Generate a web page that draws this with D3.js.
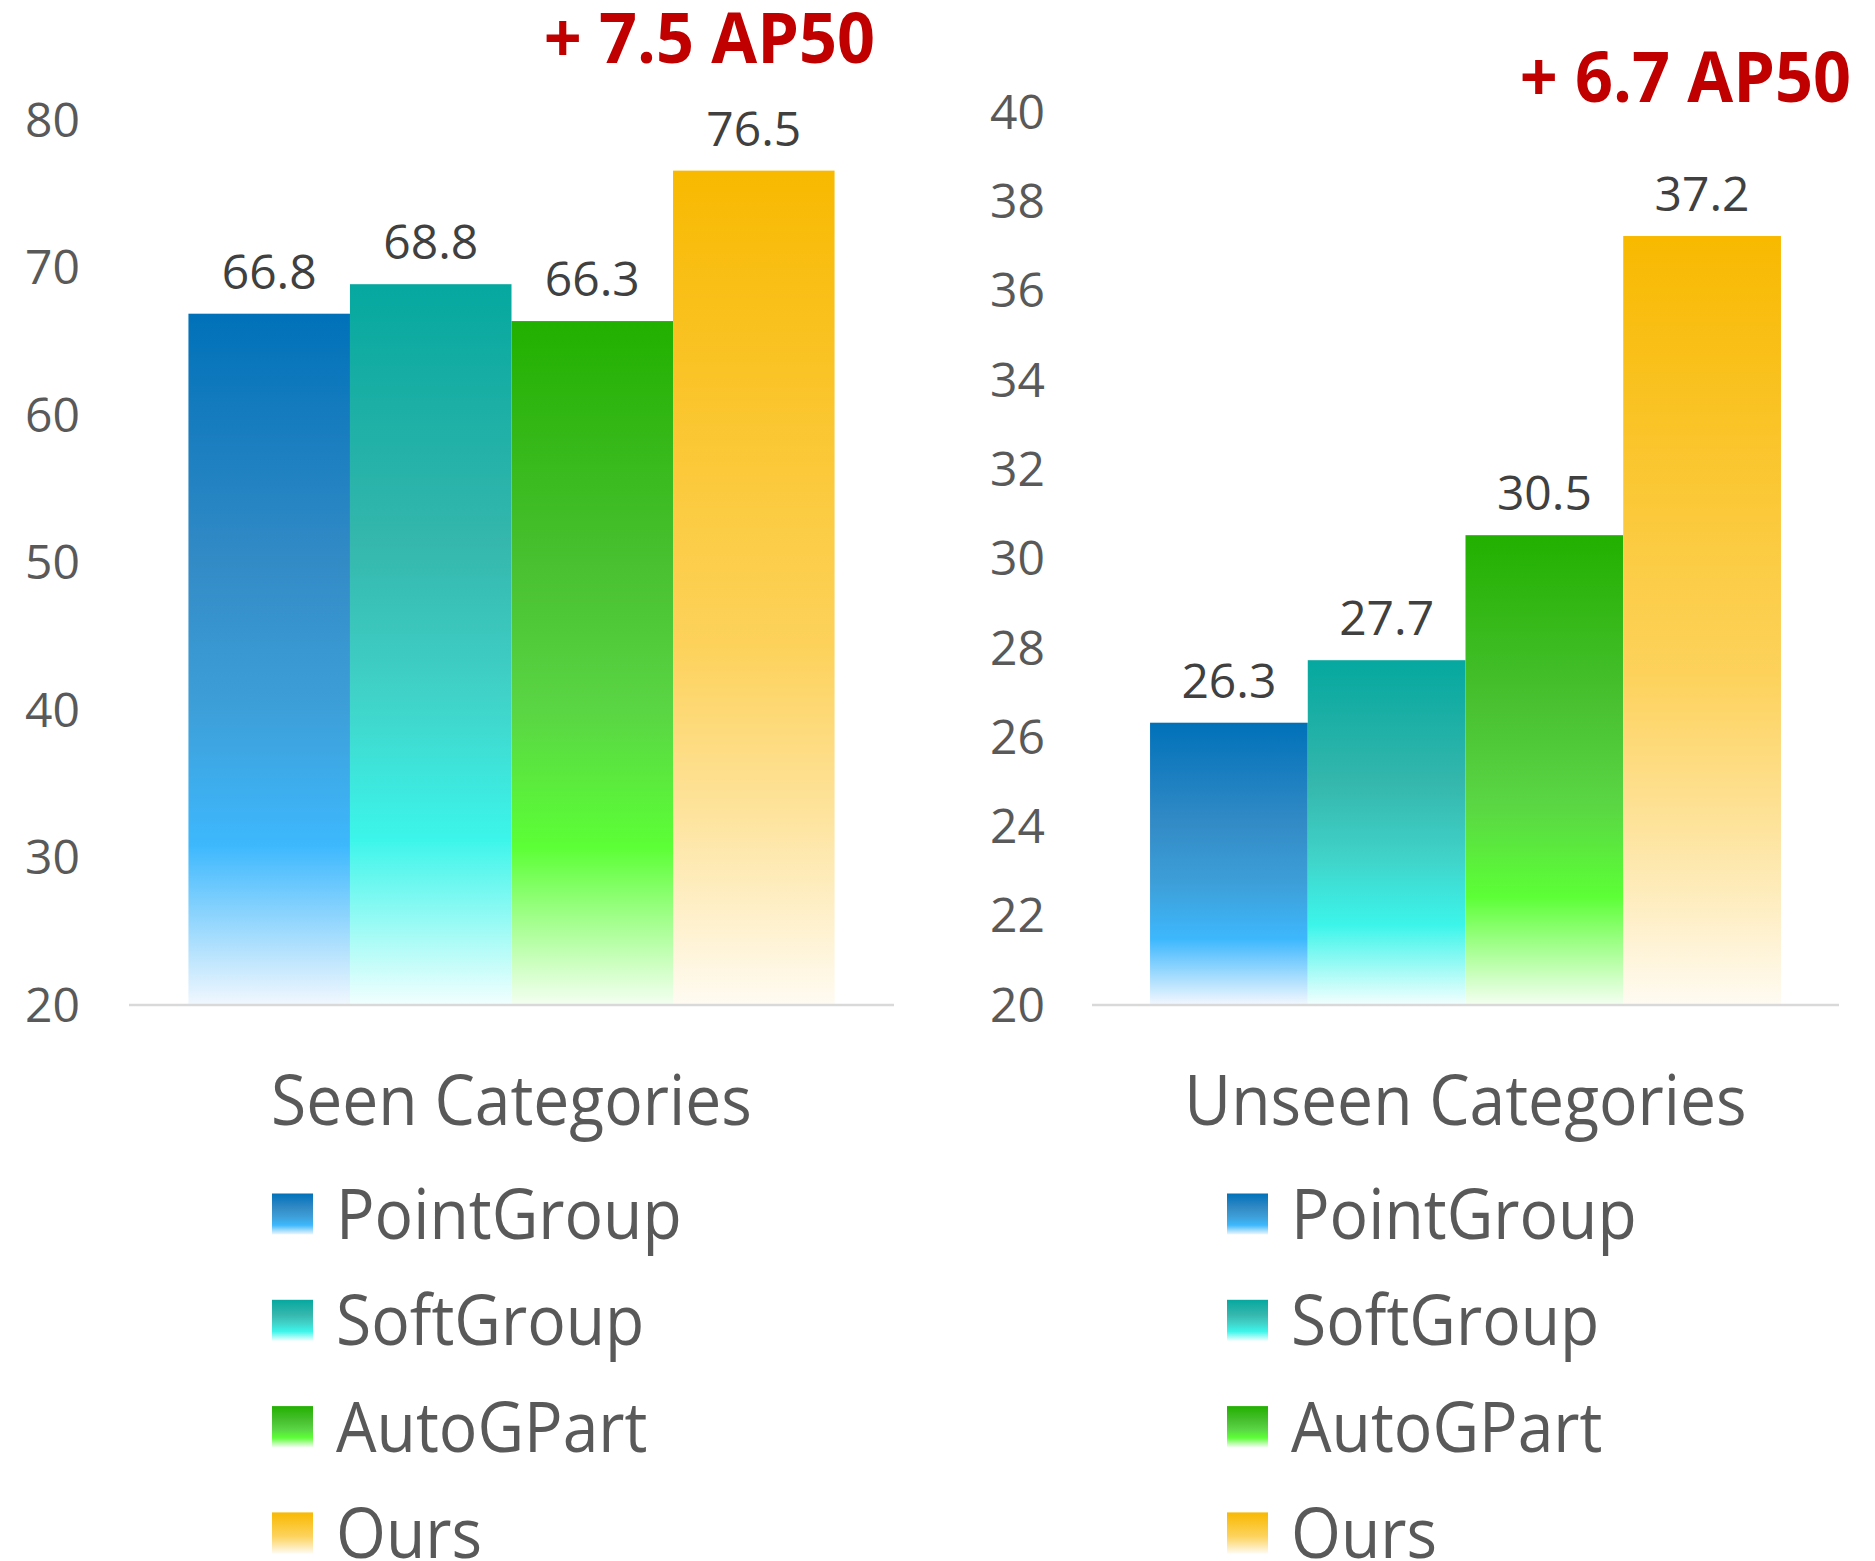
<!DOCTYPE html>
<html>
<head>
<meta charset="utf-8">
<script src="https://cdn.jsdelivr.net/npm/d3@7"></script>
<style>
  body { margin: 0; background: #fff; }
  text { font-family: "Open Sans", "Noto Sans", sans-serif; }
</style>
</head>
<body>
<script>
// Data
var methods = ["PointGroup", "SoftGroup", "AutoGPart", "Ours"];
var seenValues = [66.8, 68.8, 66.3, 76.5];
var unseenValues = [26.3, 27.7, 30.5, 37.2];
var seenTicks = [20, 30, 40, 50, 60, 70, 80];
var unseenTicks = [20, 22, 24, 26, 28, 30, 32, 34, 36, 38, 40];
var panelTitles = ["Seen Categories", "Unseen Categories"];
var gainLabels = ["+ 7.5 AP50", "+ 6.7 AP50"];

// Gradient stops per method (PowerPoint style fill)
var stopOffsets = [0, 0.36, 0.57, 0.77, 1];
var stopColors = {
  PointGroup: ["#0071b9", "#338bc6", "#3d9fd8", "#3db8fd", "#f0f7fe"],
  SoftGroup:  ["#05a89f", "#35b7ad", "#40d2c8", "#3cf5ea", "#f0fffe"],
  AutoGPart:  ["#22b000", "#49c131", "#5ad544", "#5cff36", "#f3fff0"],
  Ours:       ["#f8b900", "#fbc93a", "#fdd25b", "#fde39c", "#fffbf2"]
};

var width = 1875, height = 1561,
    baseY = 1004;

var panels = [
  {values: seenValues, ticks: seenTicks, domain: [20, 80], top: 119,
   x0: 129, x1: 894, labelX: 80, gainX: 875, gainY: 63, legendX: 272},
  {values: unseenValues, ticks: unseenTicks, domain: [20, 40], top: 111,
   x0: 1092, x1: 1839, labelX: 1045, gainX: 1851, gainY: 102, legendX: 1227}
];

var svg = d3.select("body")
  .append("svg")
    .attr("width", width)
    .attr("height", height);

var defs = svg.append("defs");
methods.forEach(function(m, i) {
  var g = defs.append("linearGradient")
      .attr("id", "grad" + i)
      .attr("x1", 0).attr("y1", 0)
      .attr("x2", 0).attr("y2", 1);
  stopOffsets.forEach(function(o, j) {
    g.append("stop").attr("offset", o).attr("stop-color", stopColors[m][j]);
  });
});

// squeeze text a bit horizontally (reference font is narrower)
function squeeze(sel, k) {
  sel.each(function() {
    var len = this.getComputedTextLength();
    d3.select(this)
      .attr("textLength", len * k)
      .attr("lengthAdjust", "spacingAndGlyphs");
  });
}

panels.forEach(function(p, pi) {
  var x = d3.scaleBand()
      .domain(methods)
      .range([p.x0, p.x1])
      .paddingInner(0)
      .paddingOuter(0.368);
  var y = d3.scaleLinear().domain(p.domain).range([baseY, p.top]);

  var g = svg.append("g");

  // y tick labels (no axis line, no tick marks)
  var yAxis = d3.axisLeft(y).tickValues(p.ticks).tickSize(0).tickPadding(0);
  var ax = g.append("g")
      .attr("transform", "translate(" + p.labelX + ",0)")
      .call(yAxis);
  ax.select(".domain").remove();
  ax.selectAll(".tick text")
      .attr("x", 0)
      .attr("dy", "0.36em")
      .style("font-family", "'Open Sans', sans-serif")
      .style("font-size", "48px")
      .attr("fill", "#595959");

  // bars
  g.selectAll(".bar")
      .data(p.values)
    .enter().append("rect")
      .attr("class", "bar")
      .attr("x", function(d, i) { return x(methods[i]); })
      .attr("width", x.bandwidth())
      .attr("y", function(d) { return y(d); })
      .attr("height", function(d) { return baseY - y(d); })
      .attr("fill", function(d, i) { return "url(#grad" + i + ")"; });

  // baseline
  g.append("line")
      .attr("x1", p.x0).attr("x2", p.x1)
      .attr("y1", y(p.domain[0]) + 1).attr("y2", y(p.domain[0]) + 1)
      .style("stroke", "#d9d9d9")
      .style("stroke-width", 2.5);

  // value labels
  g.selectAll(".val")
      .data(p.values)
    .enter().append("text")
      .attr("class", "val")
      .attr("x", function(d, i) { return x(methods[i]) + x.bandwidth() / 2; })
      .attr("y", function(d) { return y(d) - 25; })
      .style("text-anchor", "middle")
      .style("font-size", "48px")
      .attr("fill", "#404040")
      .text(function(d) { return d.toFixed(1); });

  // gain annotation
  g.append("text")
      .attr("x", p.gainX)
      .attr("y", p.gainY)
      .style("text-anchor", "end")
      .style("font-size", "70px")
      .style("font-weight", "bold")
      .attr("fill", "#c00000")
      .text(gainLabels[pi])
      .call(squeeze, 0.95);

  // category title
  g.append("text")
      .attr("x", (p.x0 + p.x1) / 2)
      .attr("y", 1125)
      .style("text-anchor", "middle")
      .style("font-size", "69px")
      .attr("fill", "#595959")
      .text(panelTitles[pi])
      .call(squeeze, 0.93);

  // legend
  var leg = g.selectAll(".leg")
      .data(methods)
    .enter().append("g")
      .attr("class", "leg")
      .attr("transform", function(d, i) {
        return "translate(" + p.legendX + "," + (1214 + i * 106.3) + ")";
      });
  leg.append("rect")
      .attr("x", 0).attr("y", -20.5)
      .attr("width", 41).attr("height", 41)
      .attr("fill", function(d, i) { return "url(#grad" + i + ")"; });
  leg.append("text")
      .attr("x", 64)
      .attr("y", 25)
      .style("font-size", "69px")
      .attr("fill", "#595959")
      .text(function(d) { return d; })
      .call(squeeze, 0.93);
});
</script>
</body>
</html>
